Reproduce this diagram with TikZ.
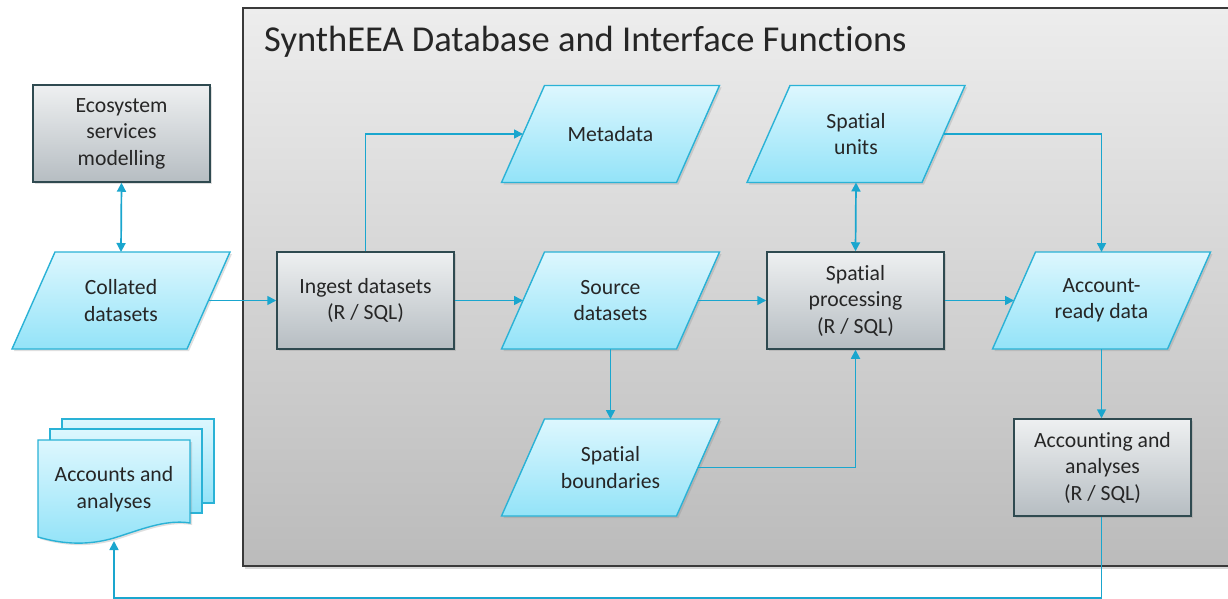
\documentclass[tikz,border=0pt]{standalone}
\usepackage{fontspec}
\setmainfont{Carlito}[Ligatures={NoCommon}]
\usetikzlibrary{shadows,arrows.meta,calc}
\pgfdeclarelayer{back}
\pgfdeclarelayer{bg}
\pgfsetlayers{back,bg,main}
\definecolor{boxtop}{HTML}{EEF0F1}
\definecolor{boxbot}{HTML}{B6BDC2}
\definecolor{boxborder}{HTML}{2F4A50}
\definecolor{datatop}{HTML}{DDF7FE}
\definecolor{databot}{HTML}{93E3F8}
\definecolor{databorder}{HTML}{2AB2D6}
\definecolor{conn}{HTML}{1AA6CE}
\definecolor{contop}{HTML}{EDEDED}
\definecolor{conbot}{HTML}{BBBBBB}
\definecolor{conborder}{HTML}{3A3A3A}
\definecolor{txt}{HTML}{262626}
\tikzset{
  lbl/.style={font=\fontsize{21.7}{26.5}\selectfont, text=txt, align=center},
  procbox/.style={lbl, rectangle, draw=boxborder, line width=1.5pt,
    top color=boxtop, bottom color=boxbot, minimum width=177pt, minimum height=97pt,
    drop shadow={shadow xshift=2pt, shadow yshift=-2pt, opacity=0.25}},
  databox/.style={lbl, rectangle, inner sep=0pt, outer sep=0pt, minimum width=175pt, minimum height=97pt},
  datashape/.style={draw=databorder, line width=1.4pt, top color=datatop, bottom color=databot,
    drop shadow={shadow xshift=2pt, shadow yshift=-2pt, opacity=0.25}},
  docshape/.style={draw=databorder, line width=1.4pt, top color=datatop, bottom color=databot},
  link/.style={draw=conn, line width=1.7pt, -{Triangle[length=9pt,width=9pt]}},
  biglink/.style={draw=conn, line width=1.7pt, {Triangle[length=9pt,width=9pt]}-{Triangle[length=9pt,width=9pt]}},
}
\begin{document}
\begin{tikzpicture}[x=1pt,y=-1pt]
\useasboundingbox (0,0) rectangle (1228,599);
\begin{pgfonlayer}{back}
\fill[white] (0,0) rectangle (1228,599);
% container
\path[draw=conborder, line width=1.6pt, top color=contop, bottom color=conbot,
  drop shadow={shadow xshift=2pt, shadow yshift=-3pt, opacity=0.3}]
  (243,8) rectangle (1260,566);
\end{pgfonlayer}
\node[anchor=base west, font=\fontsize{36.5}{40}\selectfont, text=txt, inner sep=0pt] (title) at (264,52) {SynthEEA Database and Interface Functions};

% nodes
\node[procbox] (eco) at (121.5,133.5) {Ecosystem\\services\\modelling};
\node[databox] (col) at (121,300.5) {Collated\\datasets};
\node[procbox] (ing) at (365.5,300.5) {Ingest datasets\\(R / SQL)};
\node[databox] (meta) at (610.5,134) {Metadata};
\node[databox] (src) at (610.5,300.5) {Source\\datasets};
\node[databox] (units) at (856,134) {Spatial\\units};
\node[procbox] (sp) at (855.5,300.5) {Spatial\\processing\\(R / SQL)};
\node[databox] (ard) at (1101.5,300.5) {Account-\\ready data};
\node[databox] (bnd) at (610.5,467.5) {Spatial\\boundaries};
\node[procbox] (acb) at (1102.5,467.5) {Accounting and\\analyses\\(R / SQL)};

% parallelogram outlines behind the data nodes
\begin{pgfonlayer}{bg}
\foreach \n in {col,meta,src,units,ard,bnd}{
  \path[datashape] ($(\n.north west)+(21.5,0)$) -- ($(\n.north east)+(21.5,0)$)
    -- ($(\n.south east)+(-21.5,0)$) -- ($(\n.south west)+(-21.5,0)$) -- cycle;
}
\end{pgfonlayer}

% document stack
\path[docshape] (62,419) rectangle (214,503);
\path[docshape] (50,429) rectangle (202,513);
\path[docshape, drop shadow={shadow xshift=2pt, shadow yshift=-2pt, opacity=0.25}]
  (38,440) -- (190,440) -- (190,523)
  .. controls (165,519) and (140,530) .. (114,538)
  .. controls (90,545) and (65,545) .. (38,537) -- cycle;
\node[lbl] (acc) at (114,489) {Accounts and\\analyses};
\coordinate (docbot) at (114,541);

% connectors
\draw[biglink] (eco.south) -- (col.north);
\draw[link] (col.east) -- (ing.west);
\draw[link] (ing.north) |- (meta.west);
\draw[link] (ing.east) -- (src.west);
\draw[link] (src.east) -- (sp.west);
\draw[link] (src.south) -- (bnd.north);
\draw[link] (bnd.east) -| (sp.south);
\draw[biglink] (units.south) -- (sp.north);
\draw[link] (units.east) -| (ard.north);
\draw[link] (sp.east) -- (ard.west);
\draw[link] (ard.south) -- (ard.south |- acb.north);
\draw[link] (acb.south -| ard.south) -- ++(0,81) -| (docbot);
\end{tikzpicture}
\end{document}
